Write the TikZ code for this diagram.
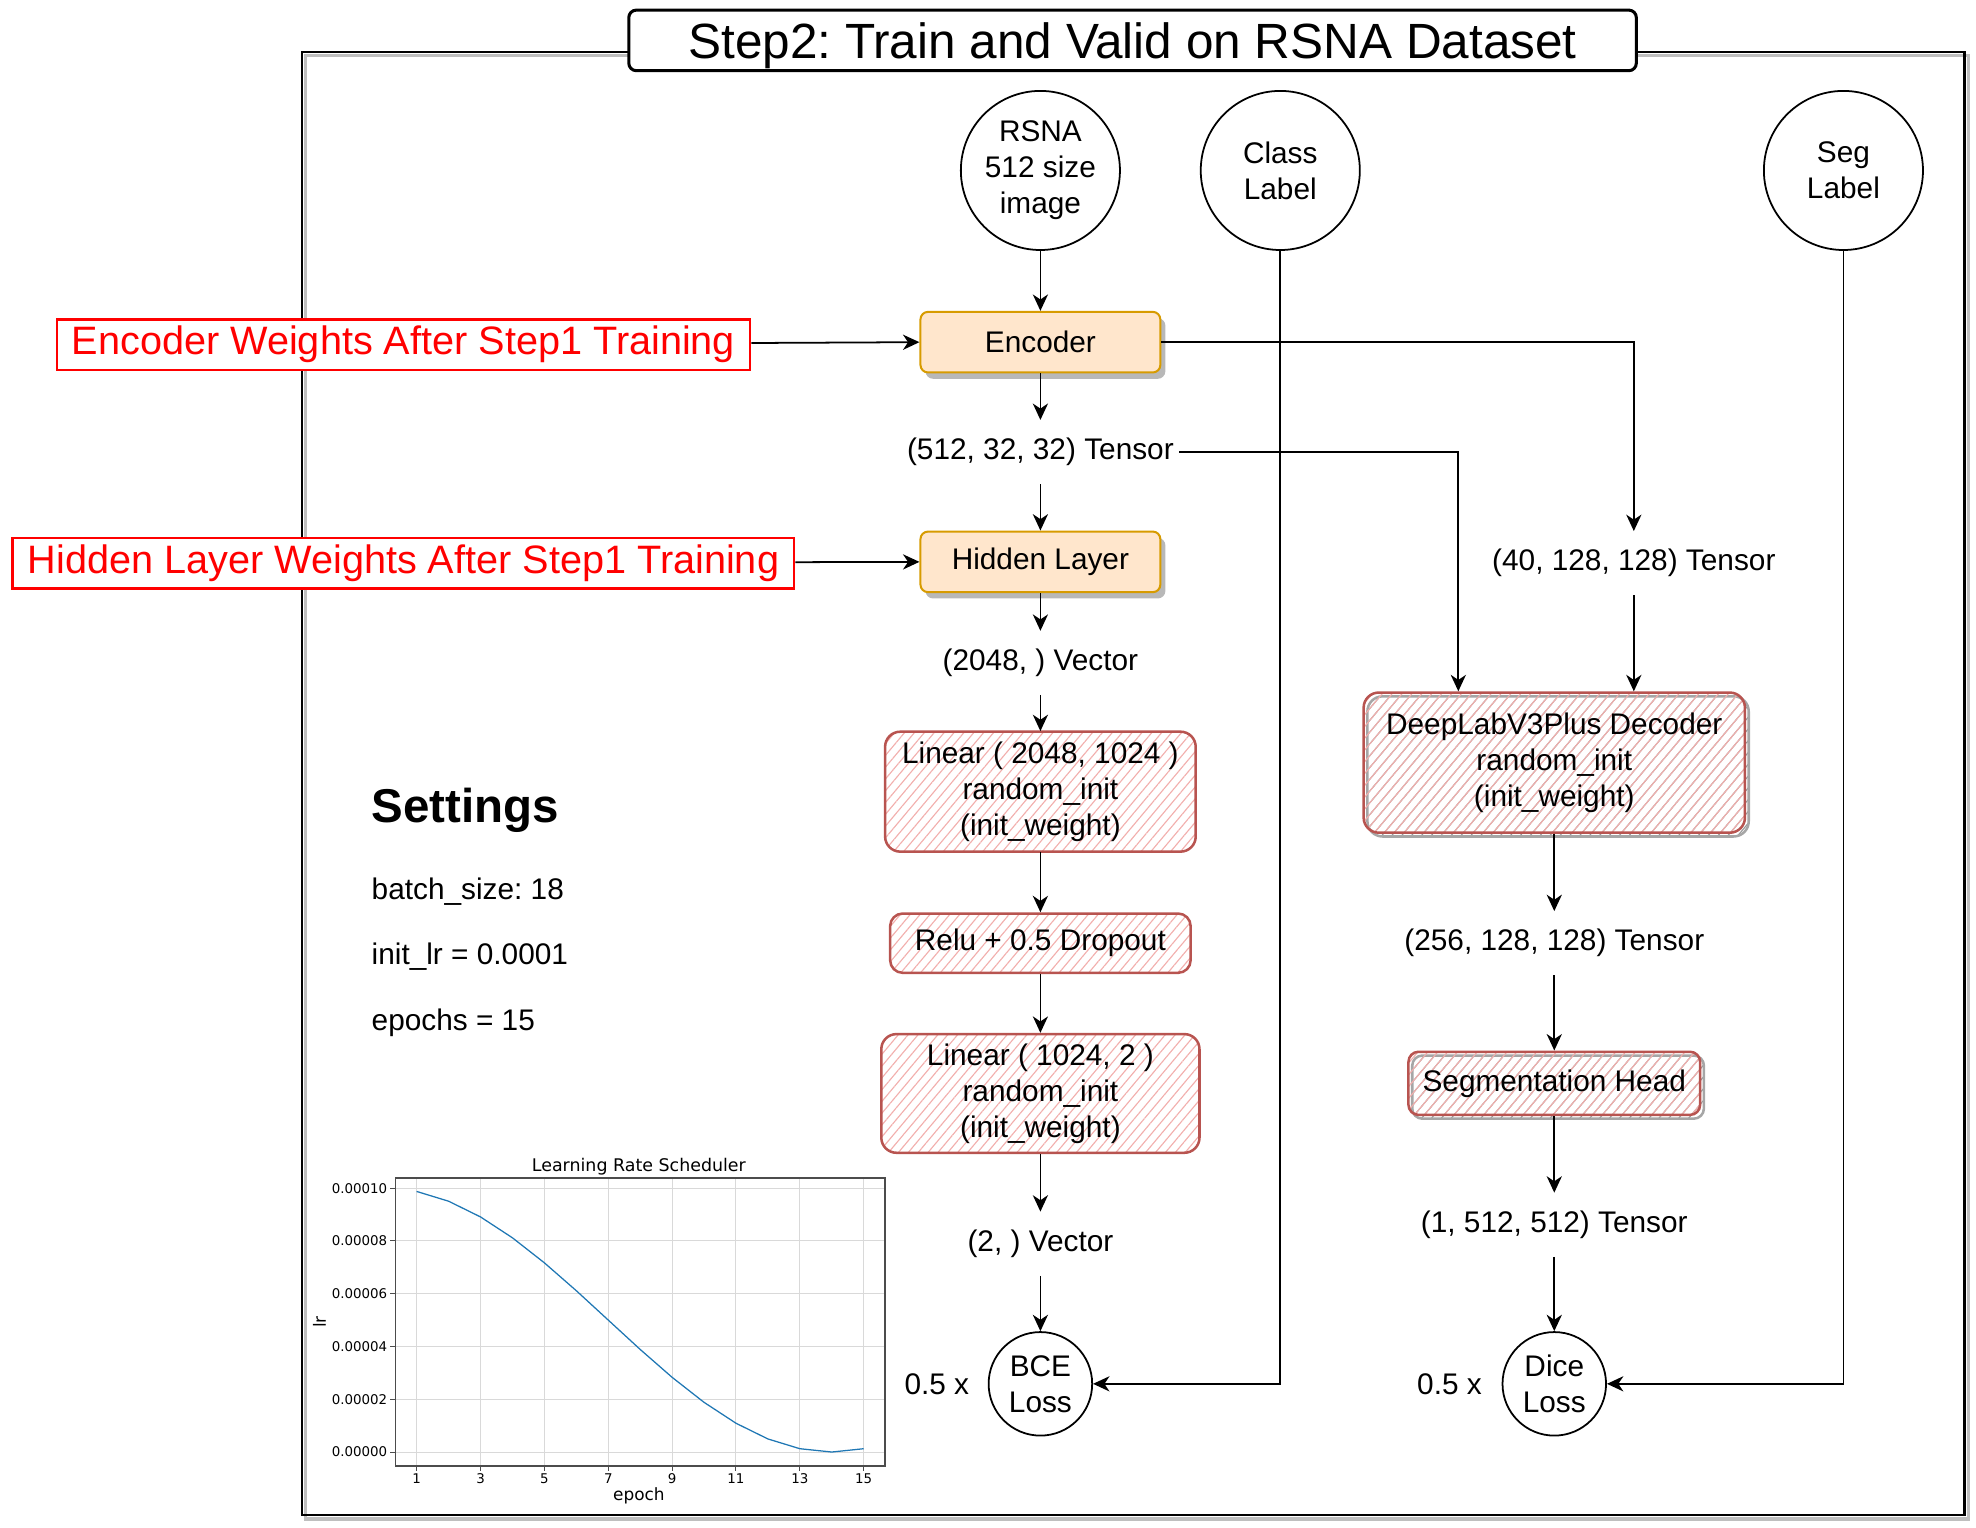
\documentclass[tikz,border=0pt]{standalone}
\usepackage{fontspec}
\setmainfont{Liberation Sans}
\newfontfamily\plotfont{DejaVu Sans}
\usetikzlibrary{arrows.meta,patterns.meta,shadows}
\definecolor{encfill}{HTML}{FFE6CC}
\definecolor{encline}{HTML}{D79B00}
\definecolor{initline}{HTML}{B85450}
\definecolor{inithatch}{HTML}{F2AFAD}
\definecolor{lrblue}{HTML}{1F77B4}
\newcommand{\boxfont}{\fontsize{11.8}{14.3}\selectfont}
\newcommand{\ticfont}{\plotfont\fontsize{5.3}{6}\selectfont}

\begin{document}
\frenchspacing
\begin{tikzpicture}[x=0.5pt, y=-0.5pt,
  conn/.style={draw, line width=0.7pt, -{Stealth[length=6.5pt,width=6pt,inset=2pt]}},
  datanode/.style={circle, draw, line width=0.7pt, minimum size=63pt, inner sep=0pt, align=center, font=\boxfont},
  lossnode/.style={datanode, minimum size=41pt},
  loaded/.style={draw=encline, fill=encfill, line width=0.8pt, rounded corners=3pt,
    minimum width=95pt, minimum height=24pt, inner sep=0pt, font=\boxfont,
    drop shadow={shadow xshift=2pt, shadow yshift=-2.5pt, fill=black!28, opacity=1}},
  fresh/.style={draw=initline, line width=1pt, rounded corners=6pt, inner sep=0pt, align=center, font=\boxfont,
    pattern={Lines[angle=50, distance=3pt, line width=0.45pt]}, pattern color=inithatch},
  freshshade/.style={fresh, general shadow={shadow xshift=1.5pt, shadow yshift=-1.5pt, draw=black!35,
    pattern={Lines[angle=50, distance=3pt, line width=0.45pt]}, pattern color=black!40}},
  tensorlbl/.style={inner sep=0pt, inner xsep=2pt, minimum height=25pt, font=\boxfont},
  weights/.style={draw=red, fill=white, text=red, line width=1pt, inner sep=0pt, minimum height=20pt,
    font=\fontsize{15.7}{18}\selectfont},
  gridln/.style={black!15, line width=0.4pt},
]
  \useasboundingbox (0,0) rectangle (1565,1210);

  % frame with shadow
  \draw[black!25, line width=1.3pt] (242,44) rectangle (1559,1203);
  \draw[line width=1pt] (239,41) rectangle (1556,1200);
  \node[draw, fill=white, line width=1.2pt, rounded corners=3pt, minimum width=399pt, minimum height=24pt,
    inner sep=0pt, text depth=0pt, font=\fontsize{19.6}{22}\selectfont] (title) at (897,32) {Step2: Train and Valid on RSNA Dataset};

  % inputs
  \node[datanode] (rsna) at (824,135) {RSNA\\512 size\\image};
  \node[datanode] (cls) at (1014,135) {Class\\Label};
  \node[datanode] (segl) at (1460,135) {Seg\\Label};

  % classification branch
  \node[loaded] (enc) at (824,271) {Encoder};
  \node[weights, minimum width=274.5pt] (encw) at (319.5,273) {Encoder Weights After Step1 Training};
  \node[tensorlbl] (t512) at (824,358) {(512, 32, 32) Tensor};
  \node[loaded] (hid) at (824,445) {Hidden Layer};
  \node[weights, minimum width=309.5pt] (hidw) at (319.5,446) {Hidden Layer Weights After Step1 Training};
  \node[tensorlbl] (v2048) at (824,525) {(2048, ) Vector};
  \node[fresh, minimum width=123pt, minimum height=47.5pt] (lin1) at (824,627) {Linear ( 2048, 1024 )\\random\_init\\(init\_weight)};
  \node[fresh, minimum width=119pt, minimum height=23.5pt, rounded corners=5pt] (relu) at (824,747) {Relu + 0.5 Dropout};
  \node[fresh, minimum width=126pt, minimum height=47pt] (lin2) at (824,866) {Linear ( 1024, 2 )\\random\_init\\(init\_weight)};
  \node[tensorlbl] (v2) at (824,985) {(2, ) Vector};
  \node[lossnode] (bce) at (824,1096) {BCE\\Loss};
  \node[tensorlbl] (bcew) at (742,1096) {0.5 x};

  % segmentation branch
  \node[tensorlbl] (t40) at (1294,446) {(40, 128, 128) Tensor};
  \node[freshshade, minimum width=151pt, minimum height=55.5pt] (dec) at (1231,604) {DeepLabV3Plus Decoder\\random\_init\\(init\_weight)};
  \node[tensorlbl] (t256) at (1231,747) {(256, 128, 128) Tensor};
  \node[freshshade, minimum width=115.5pt, minimum height=25pt, rounded corners=4pt] (seg) at (1231,858) {Segmentation Head};
  \node[tensorlbl] (t1) at (1231,970) {(1, 512, 512) Tensor};
  \node[lossnode] (dice) at (1231,1096) {Dice\\Loss};
  \node[tensorlbl] (dicew) at (1148,1096) {0.5 x};

  % settings
  \node[anchor=west, inner sep=0pt, font=\fontsize{18.8}{22}\selectfont\bfseries] (sett) at (294,642) {Settings};
  \node[anchor=west, inner sep=0pt, font=\boxfont] (bs) at (294,706) {batch\_size: 18};
  \node[anchor=west, inner sep=0pt, font=\boxfont] (lr) at (294,758) {init\_lr = 0.0001};
  \node[anchor=west, inner sep=0pt, font=\boxfont] (ep) at (294,810) {epochs = 15};

  \draw[conn] (rsna) -- (enc); % image->encoder
  \draw[conn] (encw) -- (enc.west);
  \draw[conn] (enc) -- (t512);
  \draw[conn] (t512) -- (hid);
  \draw[conn] (hidw) -- (hid.west);
  \draw[conn] (hid) -- (v2048);
  \draw[conn] (v2048) -- (lin1);
  \draw[conn] (lin1) -- (relu);
  \draw[conn] (relu) -- (lin2);
  \draw[conn] (lin2) -- (v2);
  \draw[conn] (v2) -- (bce);
  \draw[conn] (cls.south) |- (bce.east); % label->BCE

  \draw[conn] (enc.east) -| (t40.north); % encoder->decoder skip
  \draw[conn] (t40.south) -- (t40.south |- dec.north);
  \draw[conn] (t512.east) -| ([xshift=-38pt]dec.north);
  \draw[conn] (dec) -- (t256);
  \draw[conn] (t256) -- (seg);
  \draw[conn] (seg) -- (t1);
  \draw[conn] (t1) -- (dice);
  \draw[conn] (segl.south) |- (dice.east); % label->Dice

  % learning rate plot
  \foreach \k in {1,3,...,15}
    \draw[gridln] ({330+25.29*(\k-1)},933) -- ({330+25.29*(\k-1)},1161);
  \foreach \v/\t in {0/0.00000,2/0.00002,4/0.00004,6/0.00006,8/0.00008,10/0.00010} {
    \draw[gridln] (313,{1150-20.9*\v}) -- (701,{1150-20.9*\v});
    \draw[black!70, line width=0.4pt] (309,{1150-20.9*\v}) -- (313,{1150-20.9*\v});
    \node[anchor=east, inner sep=1pt, font=\ticfont] (yt\v) at (309,{1150-20.9*\v}) {\t};
  }
  \foreach \k in {1,3,...,15} {
    \draw[black!70, line width=0.4pt] ({330+25.29*(\k-1)},1161) -- ({330+25.29*(\k-1)},1165);
    \node[anchor=north, inner sep=1pt, font=\ticfont] (xt\k) at ({330+25.29*(\k-1)},1165) {\k};
  }
  \draw[black!70, line width=0.5pt] (313,933) rectangle (701,1161);
  \draw[lrblue, line width=0.5pt] plot[domain=1:15, samples=15] ({330+25.29*(\x-1)},{1150-104.5*(1+cos(180*\x/14))});
  \node[font=\plotfont\fontsize{6.9}{8}\selectfont, inner sep=0pt] (lrtitle) at (506,924) {Learning Rate Scheduler};
  \node[font=\plotfont\fontsize{6.7}{8}\selectfont, inner sep=0pt] (lrx) at (506,1185) {epoch};
  \node[font=\plotfont\fontsize{6.7}{8}\selectfont, inner sep=0pt, rotate=90] (lry) at (253,1047) {lr};

\end{tikzpicture}
\end{document}
